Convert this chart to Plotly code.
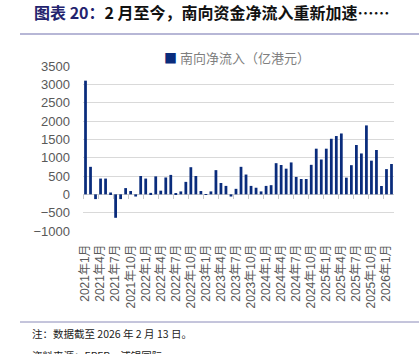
import plotly.graph_objects as go

# ---- data ----
months = [f"{y}年{m}月" for y in range(2021, 2027) for m in range(1, 13)][:62]
net_inflow = [
    3100, 750, -130, 430, 430, 50, -640, -130, 170, 90, -60, 500,
    430, 40, 490, 100, 460, 530, 10, 80, 340, 740, 500, 90,
    5, 80, 660, 310, 230, -60, 150, 750, 540, 230, 180, 80,
    230, 250, 850, 800, 700, 870, 475, 418, 418, 805, 1245, 950,
    1245, 1515, 1590, 1660, 455, 795, 1345, 1115, 1880, 918,
    1209, 227, 688, 827,
]
tick_labels = months[::3]
y_ticks = [-1000, -500, 0, 500, 1000, 1500, 2000, 2500, 3000, 3500]
series_name = "南向净流入（亿港元）"
title_a = "图表 20："
title_b = "2 月至今，南向资金净流入重新加速……"
note = "注：数据截至 2026 年 2 月 13 日。"
source = "资料来源：EPFR，浦银国际"

W, H = 419, 354
L, R, T, B = 83, 25, 66, 123
pw, ph = W - L - R, H - T - B
ymin, ymax = -1000, 3500

def px_x(p):
    return (p - L) / pw

def px_y(p):
    return (H - B - p) / ph

bar_color = "#0A2C7C"
grey = "#595959"

fig = go.Figure()
fig.add_trace(go.Bar(
    x=months, y=net_inflow, name=series_name,
    marker=dict(color=bar_color, line=dict(width=0)),
    showlegend=False,
))

fig.update_layout(
    width=W, height=H,
    margin=dict(l=L, r=R, t=T, b=B, pad=0),
    paper_bgcolor="white", plot_bgcolor="white",
    bargap=0.45,
    showlegend=False,
    xaxis=dict(
        type="category",
        range=[-0.5, len(months) - 0.5],
        tickmode="array", tickvals=tick_labels, ticktext=tick_labels,
        tickangle=-90,
        tickfont=dict(family="Liberation Sans, Noto Sans CJK SC", size=12, color=grey),
        showgrid=False, showline=False, ticks="", zeroline=False,
        ticklabelstandoff=10,
    ),
    yaxis=dict(
        range=[ymin, ymax],
        tickvals=y_ticks,
        tickfont=dict(family="Liberation Sans, Arial", size=13, color=grey),
        showgrid=True, gridcolor="#D9D9D9", gridwidth=1,
        zeroline=True, zerolinecolor="#D0D0D0", zerolinewidth=1,
        showline=False, ticks="", ticklabelstandoff=12,
    ),
    xaxis2=dict(
        overlaying="x", anchor="free",
        position=(0 - ymin) / (ymax - ymin),
        range=[-0.5, len(months) - 0.5],
        tickvals=[i - 0.5 for i in range(0, len(months) + 1, 3)],
        showticklabels=False, ticks="outside", ticklen=4, tickcolor="#C8C8C8",
        showgrid=False, zeroline=False, showline=False,
    ),
)

annotations = [
    dict(x=px_x(32), y=px_y(12), xref="paper", yref="paper", xanchor="left", yanchor="middle",
         text=f"<b><span style='color:#23236E'>{title_a}</span>{title_b}</b>",
         showarrow=False, font=dict(family="Noto Sans CJK SC", size=16, color="#111111")),
    dict(x=px_x(162), y=px_y(58), xref="paper", yref="paper", xanchor="left", yanchor="middle",
         text=f"<span style='color:{bar_color}'>■</span> {series_name}",
         showarrow=False, font=dict(family="Noto Sans CJK SC", size=13, color="#7F7F7F")),
    dict(x=px_x(30), y=px_y(333), xref="paper", yref="paper", xanchor="left", yanchor="middle",
         text=note, showarrow=False,
         font=dict(family="Noto Sans CJK SC", size=10.5, color="#222222")),
    dict(x=px_x(30), y=px_y(355), xref="paper", yref="paper", xanchor="left", yanchor="middle",
         text=source, showarrow=False,
         font=dict(family="Noto Sans CJK SC", size=10.5, color="#222222")),
]
fig.update_layout(annotations=annotations)

fig.update_layout(shapes=[
    dict(type="line", xref="paper", yref="paper", x0=px_x(20), x1=px_x(419),
         y0=px_y(34), y1=px_y(34), line=dict(color="#B7B7D6", width=2)),
    dict(type="line", xref="paper", yref="paper", x0=px_x(20), x1=px_x(419),
         y0=px_y(322), y1=px_y(322), line=dict(color="#8A8AB8", width=1)),
])
# draw the axis tick marks (xaxis2) even without data
fig.add_trace(go.Scatter(x=[None], y=[None], xaxis="x2", showlegend=False, hoverinfo="skip"))

fig.write_html("out.html")
